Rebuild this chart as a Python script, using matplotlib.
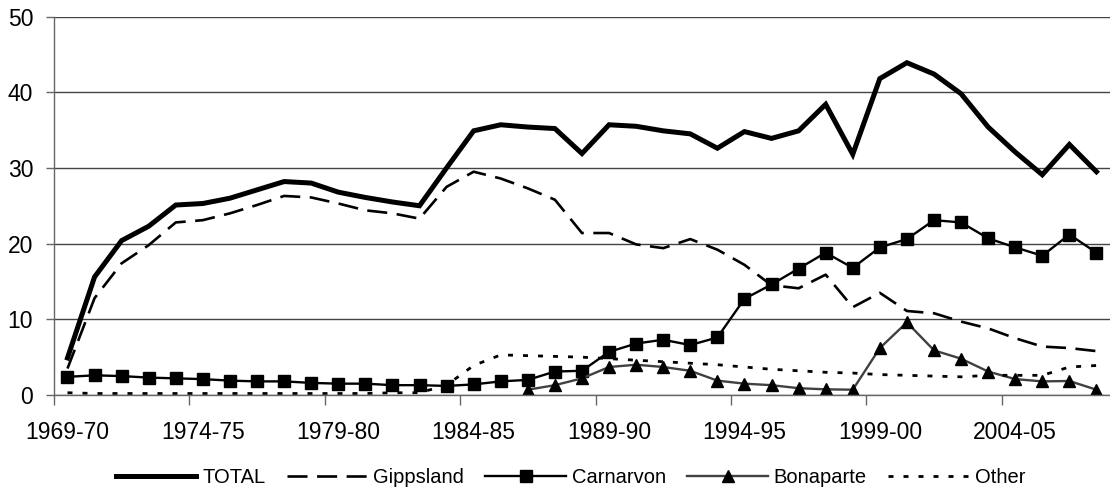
import matplotlib

matplotlib.use("Agg")
import matplotlib.pyplot as plt
import numpy as np

plt.rcParams["font.family"] = ["Liberation Sans", "DejaVu Sans"]

seasons = [
    "1969-70", "1970-71", "1971-72", "1972-73", "1973-74", "1974-75", "1975-76",
    "1976-77", "1977-78", "1978-79", "1979-80", "1980-81", "1981-82", "1982-83",
    "1983-84", "1984-85", "1985-86", "1986-87", "1987-88", "1988-89", "1989-90",
    "1990-91", "1991-92", "1992-93", "1993-94", "1994-95", "1995-96", "1996-97",
    "1997-98", "1998-99", "1999-00", "2000-01", "2001-02", "2002-03", "2003-04",
    "2004-05", "2005-06", "2006-07", "2007-08",
]

total = [4.9, 15.6, 20.4, 22.3, 25.1, 25.3, 26.0, 27.1, 28.2, 28.0, 26.8, 26.1,
         25.5, 25.0, 30.0, 34.9, 35.7, 35.4, 35.2, 31.9, 35.7, 35.5, 34.9, 34.5,
         32.6, 34.8, 33.9, 34.9, 38.4, 31.8, 41.8, 43.9, 42.4, 39.8, 35.4, 32.1,
         29.1, 33.1, 29.5]
gippsland = [3.5, 12.8, 17.4, 19.8, 22.8, 23.1, 24.0, 25.1, 26.3, 26.1, 25.3, 24.4,
             24.0, 23.3, 27.5, 29.5, 28.6, 27.3, 25.8, 21.4, 21.4, 19.9, 19.4, 20.6,
             19.2, 17.2, 14.5, 14.1, 15.9, 11.6, 13.5, 11.1, 10.8, 9.7, 8.8, 7.5,
             6.4, 6.2, 5.8]
carnarvon = [2.4, 2.6, 2.5, 2.3, 2.2, 2.1, 1.9, 1.8, 1.8, 1.6, 1.5, 1.5,
             1.3, 1.3, 1.2, 1.4, 1.8, 2.0, 3.1, 3.2, 5.7, 6.8, 7.3, 6.6,
             7.6, 12.7, 14.6, 16.7, 18.8, 16.8, 19.5, 20.6, 23.1, 22.8, 20.7, 19.5,
             18.4, 21.2, 18.8]
bonaparte = [None] * 17 + [0.7, 1.3, 2.2, 3.7, 4.0, 3.7, 3.2, 1.9, 1.5, 1.3, 0.9,
                           0.75, 0.7, 6.2, 9.6, 5.9, 4.8, 3.1, 2.1, 1.8, 1.85, 0.7]
other = [0.3, 0.2, 0.2, 0.2, 0.2, 0.2, 0.2, 0.2, 0.2, 0.2, 0.2, 0.2,
         0.3, 0.3, 1.3, 3.9, 5.3, 5.2, 5.1, 5.0, 4.8, 4.6, 4.4, 4.2,
         4.0, 3.7, 3.4, 3.2, 3.0, 2.9, 2.7, 2.6, 2.5, 2.4, 2.6, 2.6,
         2.6, 3.7, 3.9]

x = np.arange(len(seasons))
bona = np.array([np.nan if v is None else v for v in bonaparte], dtype=float)

fig = plt.figure(figsize=(11.1, 4.95), dpi=100)
ax = fig.add_axes([0.0486, 0.202, 0.9514, 0.7646])

ax.plot(x, total, color="black", lw=3.6, label="TOTAL", solid_joinstyle="miter")
ax.plot(x, gippsland, color="black", lw=1.9, dashes=(7.6, 3.6), label="Gippsland")
ax.plot(x, carnarvon, color="black", lw=1.7, marker="s", markersize=9.2,
        label="Carnarvon")
ax.plot(x, bona, color="#404040", lw=1.7, marker="^", markersize=9,
        markerfacecolor="black", markeredgecolor="black", label="Bonaparte")
ax.plot(x, other, color="black", lw=2.0, dashes=(1.8, 3.6), label="Other")

ax.set_xlim(-0.5, len(seasons) - 0.5)
ax.set_ylim(0, 50)
ax.set_yticks([0, 10, 20, 30, 40, 50])
ax.grid(axis="y", color="#444444", lw=1)
ax.set_axisbelow(True)

# tick marks sit between categories, labels under every fifth season
ax.set_xticks(np.arange(-0.5, len(seasons), 5))
ax.set_xticklabels([])
ax.set_xticks(x[::5], minor=True)
ax.set_xticklabels(seasons[::5], minor=True)
ax.tick_params(axis="x", which="major", length=7, width=1, color="#666666")
ax.tick_params(axis="x", which="minor", length=0, pad=19, labelsize=16.5)
ax.tick_params(axis="y", length=6, width=1, color="#666666", pad=9, labelsize=16.5)

for side in ("top", "right"):
    ax.spines[side].set_visible(False)
for side in ("left", "bottom"):
    ax.spines[side].set_color("#666666")
    ax.spines[side].set_linewidth(1)

fig.legend(loc="center", bbox_to_anchor=(0.514, 0.036), ncol=5, frameon=False,
           fontsize=14.5, handlelength=4.0, handletextpad=0.3, columnspacing=1.05,
           numpoints=1)

fig.savefig("out.png", dpi=100)
